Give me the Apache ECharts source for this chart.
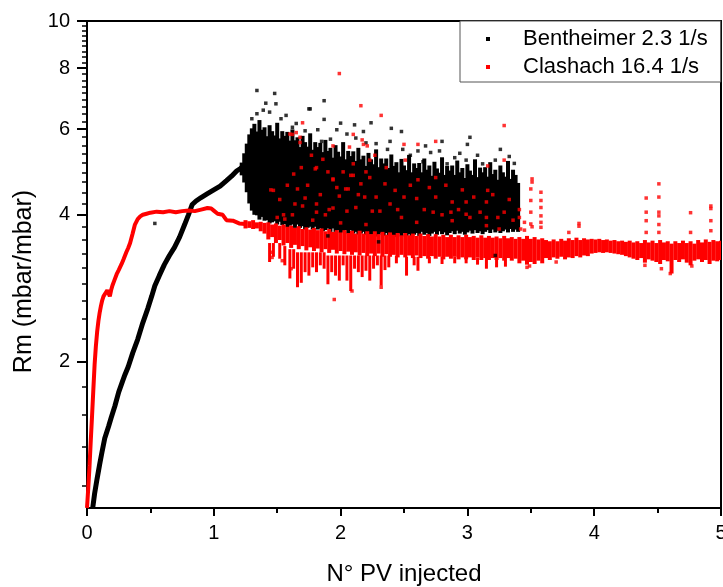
<!DOCTYPE html>
<html><head><meta charset="utf-8">
<script src="https://cdn.jsdelivr.net/npm/echarts/dist/echarts.min.js"></script>
<style>html,body{margin:0;padding:0;background:#fff}#chart{width:723px;height:587px}</style>
</head><body><div id="chart"></div>
<script>
const seriesNames = ['Bentheimer 2.3 1/s', 'Clashach 16.4 1/s'];
const xTickLabels = [0, 1, 2, 3, 4, 5];
const yTickLabels = [2, 4, 6, 8, 10];
const xTitle = 'N° PV injected';
const yTitle = 'Rm (mbar/mbar)';

// Bentheimer: early continuous trace [x, y]
const benthTrace = [[0.045,1.0],[0.06,1.07],[0.08,1.15],[0.1,1.23],[0.12,1.31],[0.14,1.39],[0.17,1.47],[0.19,1.53],[0.22,1.62],[0.25,1.73],[0.28,1.82],[0.3,1.88],[0.325,1.95],[0.36,2.08],[0.4,2.22],[0.44,2.4],[0.48,2.57],[0.51,2.72],[0.535,2.86],[0.57,3.0],[0.61,3.16],[0.65,3.3],[0.69,3.43],[0.73,3.6],[0.77,3.82],[0.8,4.0],[0.83,4.2],[0.86,4.27],[0.9,4.34],[0.95,4.42],[1.0,4.5],[1.05,4.58],[1.1,4.7],[1.14,4.8],[1.18,4.92],[1.21,4.98],[1.24,5.05]];
// Bentheimer: dense cloud, per column [x, low, high]
const benthCloud = [[1.22,4.82,5.12],[1.24,4.66,5.35],[1.26,4.45,5.6],[1.28,4.22,5.85],[1.30,4.08,6.02],[1.32,4.0,6.15],[1.34,3.99,5.93],[1.36,3.91,6.26],[1.38,3.96,5.98],[1.40,3.89,6.05],[1.42,3.9,5.8],[1.44,3.84,6.11],[1.46,3.86,5.94],[1.48,3.88,5.82],[1.50,3.82,6.18],[1.52,3.87,5.74],[1.54,3.81,5.94],[1.56,3.83,5.81],[1.58,3.77,5.92],[1.60,3.8,5.68],[1.62,3.82,5.99],[1.64,3.76,5.69],[1.66,3.82,5.77],[1.68,3.76,5.51],[1.70,3.79,5.81],[1.72,3.73,5.64],[1.74,3.76,5.52],[1.76,3.78,5.88],[1.78,3.73,5.44],[1.80,3.78,5.64],[1.82,3.73,5.51],[1.84,3.75,5.62],[1.86,3.7,5.38],[1.88,3.72,5.7],[1.90,3.75,5.41],[1.92,3.69,5.49],[1.94,3.75,5.24],[1.96,3.69,5.56],[1.98,3.72,5.39],[2.00,3.67,5.27],[2.02,3.69,5.64],[2.04,3.72,5.2],[2.06,3.66,5.41],[2.08,3.72,5.28],[2.10,3.66,5.4],[2.12,3.69,5.16],[2.14,3.64,5.49],[2.16,3.66,5.2],[2.18,3.69,5.29],[2.20,3.64,5.04],[2.22,3.69,5.36],[2.24,3.64,5.2],[2.26,3.67,5.08],[2.28,3.61,5.45],[2.30,3.64,5.01],[2.32,3.67,5.22],[2.34,3.62,5.1],[2.36,3.67,5.22],[2.38,3.62,4.99],[2.40,3.65,5.32],[2.42,3.6,5.04],[2.44,3.63,5.13],[2.46,3.66,4.89],[2.48,3.61,5.21],[2.50,3.67,5.05],[2.52,3.62,4.94],[2.54,3.65,5.31],[2.56,3.61,4.89],[2.58,3.64,5.1],[2.60,3.67,4.99],[2.62,3.62,5.11],[2.64,3.69,4.89],[2.66,3.64,5.22],[2.68,3.67,4.95],[2.70,3.62,5.05],[2.72,3.66,4.81],[2.74,3.69,5.14],[2.76,3.64,4.98],[2.78,3.7,4.88],[2.80,3.65,5.25],[2.82,3.68,4.83],[2.84,3.63,5.04],[2.86,3.67,4.93],[2.88,3.7,5.05],[2.90,3.65,4.83],[2.92,3.71,5.17],[2.94,3.66,4.89],[2.96,3.69,4.99],[2.98,3.64,4.76],[3.00,3.68,5.08],[3.02,3.71,4.93],[3.04,3.66,4.83],[3.06,3.72,5.2],[3.08,3.67,4.78],[3.10,3.7,5.0],[3.12,3.65,4.89],[3.14,3.69,5.01],[3.16,3.72,4.79],[3.18,3.67,5.13],[3.20,3.73,4.85],[3.22,3.68,4.95],[3.24,3.71,4.72],[3.26,3.67,5.05],[3.28,3.7,4.89],[3.30,3.73,4.79],[3.32,3.68,5.16],[3.34,3.74,4.74],[3.36,3.69,4.95],[3.38,3.73,4.83],[3.40,3.69,4.65]];
// Bentheimer: scattered individual points [x, y]
const benthPoints = [[0.535,3.84],[1.34,7.2],[1.48,7.1],[1.41,6.78],[1.49,6.76],[1.87,6.86],[1.75,6.6],[1.34,6.45],[1.39,6.56],[1.57,6.4],[1.65,6.16],[1.87,6.28],[2.0,6.17],[2.11,6.12],[2.24,6.18],[1.82,5.98],[1.97,5.98],[2.05,5.86],[2.18,5.93],[1.85,5.66],[2.12,5.75],[2.2,5.62],[2.4,6.02],[2.48,5.93],[2.39,5.66],[2.37,5.45],[2.49,5.45],[2.61,5.41],[2.67,5.54],[2.71,5.37],[2.8,5.66],[2.78,5.41],[3.02,5.77],[3.0,5.58],[2.9,5.24],[2.99,5.18],[3.12,5.09],[3.22,5.18],[3.26,5.45],[3.33,5.27],[2.65,5.14],[2.84,5.09],[3.22,3.3],[1.76,6.6],[1.44,6.5],[1.53,6.3],[1.3,6.3],[1.62,6.05],[1.72,5.95],[1.92,5.72],[2.28,5.6],[2.55,5.3],[2.94,5.35],[3.08,5.3],[3.37,5.1],[1.9,3.62],[2.3,3.52]];

// Clashach: early continuous trace [x, y]
const clashTrace = [[0,1.0],[0.01,1.1],[0.02,1.22],[0.03,1.38],[0.04,1.55],[0.05,1.75],[0.06,1.97],[0.07,2.15],[0.08,2.3],[0.09,2.42],[0.1,2.52],[0.11,2.6],[0.12,2.67],[0.13,2.72],[0.145,2.76],[0.16,2.8],[0.17,2.76],[0.18,2.72],[0.19,2.8],[0.2,2.86],[0.215,2.93],[0.234,3.02],[0.25,3.08],[0.273,3.17],[0.29,3.25],[0.31,3.35],[0.325,3.42],[0.34,3.5],[0.36,3.66],[0.378,3.82],[0.4,3.92],[0.42,3.97],[0.44,4.0],[0.47,4.02],[0.5,4.04],[0.55,4.06],[0.6,4.05],[0.65,4.07],[0.7,4.05],[0.75,4.07],[0.8,4.08],[0.85,4.07],[0.9,4.1],[0.95,4.13],[0.98,4.12],[1.0,4.08],[1.03,4.02],[1.07,4.0],[1.1,3.9],[1.15,3.89],[1.2,3.84],[1.25,3.83]];
// Clashach: noisy band, per column [x, low, high]
const clashBand = [[1.25,3.75,3.9],[1.28,3.76,3.88],[1.31,3.74,3.9],[1.34,3.75,3.86],[1.37,3.7,3.87],[1.40,3.66,3.85],[1.43,3.56,3.86],[1.46,3.6,3.82],[1.49,3.5,3.84],[1.52,3.55,3.8],[1.55,3.46,3.82],[1.58,3.5,3.78],[1.61,3.42,3.8],[1.64,3.47,3.76],[1.67,3.4,3.79],[1.70,3.45,3.74],[1.73,3.38,3.77],[1.76,3.43,3.73],[1.79,3.37,3.76],[1.82,3.41,3.72],[1.85,3.35,3.75],[1.88,3.4,3.7],[1.91,3.34,3.74],[1.94,3.39,3.69],[1.97,3.33,3.72],[2.00,3.37,3.68],[2.03,3.32,3.72],[2.06,3.36,3.67],[2.09,3.31,3.71],[2.12,3.35,3.66],[2.15,3.3,3.71],[2.18,3.34,3.66],[2.21,3.29,3.7],[2.24,3.33,3.65],[2.27,3.29,3.7],[2.30,3.33,3.65],[2.33,3.28,3.69],[2.36,3.32,3.64],[2.39,3.28,3.68],[2.42,3.31,3.64],[2.45,3.27,3.67],[2.48,3.31,3.63],[2.51,3.27,3.67],[2.54,3.3,3.63],[2.57,3.26,3.66],[2.60,3.3,3.62],[2.63,3.26,3.66],[2.66,3.29,3.62],[2.69,3.25,3.65],[2.72,3.29,3.61],[2.75,3.25,3.65],[2.78,3.28,3.61],[2.81,3.24,3.64],[2.84,3.28,3.6],[2.87,3.25,3.64],[2.90,3.28,3.6],[2.93,3.24,3.63],[2.96,3.27,3.6],[2.99,3.24,3.64],[3.02,3.27,3.6],[3.05,3.23,3.62],[3.08,3.27,3.59],[3.11,3.23,3.63],[3.14,3.26,3.59],[3.17,3.23,3.62],[3.20,3.26,3.59],[3.23,3.23,3.61],[3.26,3.26,3.58],[3.29,3.22,3.62],[3.32,3.26,3.58],[3.35,3.22,3.6],[3.38,3.25,3.57],[3.41,3.18,3.6],[3.44,3.22,3.57],[3.47,3.16,3.62],[3.50,3.2,3.57],[3.53,3.17,3.6],[3.56,3.22,3.56],[3.59,3.18,3.58],[3.62,3.26,3.55],[3.65,3.23,3.53],[3.68,3.27,3.56],[3.71,3.25,3.53],[3.74,3.28,3.57],[3.77,3.24,3.54],[3.80,3.27,3.58],[3.83,3.26,3.55],[3.86,3.29,3.59],[3.89,3.27,3.55],[3.92,3.3,3.58],[3.95,3.29,3.56],[3.98,3.33,3.57],[4.01,3.34,3.56],[4.04,3.35,3.57],[4.07,3.34,3.55],[4.10,3.35,3.56],[4.13,3.34,3.54],[4.16,3.33,3.55],[4.19,3.32,3.53],[4.22,3.31,3.54],[4.25,3.29,3.52],[4.28,3.27,3.54],[4.31,3.25,3.51],[4.34,3.23,3.53],[4.37,3.26,3.5],[4.40,3.19,3.55],[4.43,3.24,3.51],[4.46,3.22,3.54],[4.49,3.2,3.5],[4.52,3.17,3.55],[4.55,3.23,3.51],[4.58,3.21,3.53],[4.61,3.03,3.49],[4.64,3.23,3.53],[4.67,3.2,3.5],[4.70,3.24,3.54],[4.73,3.19,3.5],[4.76,3.15,3.53],[4.79,3.22,3.49],[4.82,3.24,3.55],[4.85,3.2,3.51],[4.88,3.23,3.56],[4.91,3.17,3.52],[4.94,3.22,3.55],[4.97,3.21,3.53],[5.00,3.23,3.54]];
// Clashach: downward noise streaks below the band [x, low, high]
const clashSpikes = [[1.44,3.2,3.5],[1.47,3.28,3.5],[1.52,3.25,3.5],[1.56,3.15,3.45],[1.60,2.96,3.4],[1.63,3.1,3.4],[1.66,2.84,3.35],[1.69,2.9,3.35],[1.72,3.05,3.35],[1.75,3.0,3.35],[1.78,3.12,3.35],[1.81,3.05,3.35],[1.84,3.15,3.35],[1.87,3.1,3.35],[1.90,2.88,3.3],[1.93,3.05,3.3],[1.96,3.0,3.3],[1.99,2.93,3.3],[2.02,3.15,3.3],[2.05,2.93,3.3],[2.08,2.79,3.3],[2.11,3.1,3.3],[2.14,3.05,3.3],[2.17,2.98,3.3],[2.20,3.07,3.3],[2.23,2.93,3.3],[2.26,3.1,3.3],[2.29,3.15,3.3],[2.32,2.86,3.3],[2.35,3.08,3.3],[2.38,3.12,3.3],[2.44,3.18,3.3],[2.52,3.0,3.28],[2.58,3.15,3.28],[2.61,3.07,3.28],[2.70,3.18,3.28],[2.80,3.17,3.28],[2.90,3.18,3.28],[2.99,3.18,3.28],[3.08,3.16,3.27],[3.15,3.1,3.27],[3.23,3.12,3.27],[3.30,3.13,3.27]];
// Clashach: scattered individual points [x, y]
const clashPoints = [[1.99,7.8],[2.16,6.7],[1.70,6.18],[1.60,5.86],[1.65,5.9],[1.68,5.63],[1.69,5.0],[1.80,4.97],[1.90,4.9],[1.45,4.5],[1.47,4.49],[1.66,4.52],[1.72,4.33],[1.64,4.21],[1.70,4.17],[1.81,4.21],[1.94,4.72],[1.94,4.13],[1.99,4.37],[2.06,4.52],[2.08,4.82],[2.10,5.09],[2.07,5.51],[2.10,5.85],[2.17,5.7],[2.21,5.54],[2.23,5.18],[2.23,4.77],[2.16,4.63],[2.19,4.35],[2.12,4.14],[2.25,4.07],[2.28,4.35],[1.81,4.05],[2.05,4.07],[1.91,4.1],[1.62,5.85],[1.68,5.77],[1.81,5.0],[1.94,5.54],[2.04,4.52],[1.94,4.74],[2.18,5.58],[2.10,4.82],[2.32,6.4],[2.50,5.58],[2.61,5.58],[2.75,5.66],[3.29,6.1],[3.29,5.18],[3.16,5.04],[2.75,4.77],[2.61,4.72],[2.51,5.18],[2.35,4.63],[2.43,4.49],[2.50,4.35],[2.60,4.32],[2.75,4.35],[2.88,4.25],[2.99,4.25],[3.15,4.25],[3.16,4.49],[3.29,4.05],[3.41,4.1],[3.45,3.86],[2.73,4.05],[2.87,4.05],[2.99,4.01],[3.15,3.95],[3.15,3.8],[3.25,3.74],[2.39,4.21],[2.31,4.07],[2.48,3.95],[2.60,3.86],[2.88,3.89],[3.02,3.95],[1.52,4.3],[1.55,4.0],[1.58,4.6],[1.63,4.85],[1.74,4.6],[1.77,5.3],[1.84,4.4],[1.86,5.2],[1.88,4.0],[1.97,4.55],[2.02,4.9],[2.14,4.4],[2.2,4.9],[2.27,5.3],[2.36,5.0],[2.45,4.1],[2.55,4.6],[2.66,4.1],[2.7,4.55],[2.8,4.0],[2.83,4.6],[2.93,4.1],[2.96,4.5],[3.05,4.35],[3.1,4.05],[3.2,4.4],[3.24,3.95],[3.33,4.3],[3.36,3.9],[1.5,3.95],[1.56,3.92],[1.62,4.0],[1.78,3.9],[2.0,3.85],[2.2,3.82],[1.45,3.35],[1.46,3.27],[1.54,3.22],[1.61,3.1],[1.95,2.68],[2.09,2.79],[2.32,2.84],[3.51,4.74],[3.51,4.67],[3.50,4.52],[3.50,4.28],[3.50,4.05],[3.50,3.83],[3.51,3.78],[3.58,4.45],[3.58,4.28],[3.58,4.14],[3.58,3.98],[3.58,3.86],[3.58,3.77],[3.41,3.95],[3.42,3.74],[3.45,3.72],[3.88,3.84],[3.88,3.79],[3.80,3.68],[4.41,4.33],[4.41,4.05],[4.41,3.89],[4.41,3.68],[4.51,4.63],[4.51,4.35],[4.51,4.05],[4.51,3.98],[4.51,3.82],[4.51,3.68],[4.76,4.04],[4.76,3.68],[4.92,4.17],[4.92,4.12],[4.92,3.89],[4.92,3.71],[4.60,3.03],[4.53,3.1],[3.47,3.12],[3.49,3.14],[4.40,3.15],[4.77,3.14],[3.70,3.2]];

const BLACK = '#000000', RED = '#ff0000';
const FONT = 'Liberation Sans, Arial, sans-serif';
// minor ticks on the log axis: 8 linear subdivisions between the labelled majors
const yMinorTicks = [];
[0, 2, 4, 6, 8].forEach(function (m) {
  for (let k = 1; k <= 8; k++) { const v = m + 2 * k / 9; if (v > 1 && v < 10) yMinorTicks.push(+v.toFixed(4)); }
});
function rangeRenderer(color, width) {
  return function (params, api) {
    const x = api.value(0), lo = api.value(1), hi = api.value(2);
    const pTop = api.coord([x, hi]), pBot = api.coord([x, lo]);
    return { type: 'rect', shape: { x: pTop[0] - width / 2, y: pTop[1], width: width, height: Math.max(1, pBot[1] - pTop[1]) }, style: { fill: color } };
  };
}
function line2() { return { show: true, onZero: false, lineStyle: { color: '#000', width: 2 } }; }
const LEGEND_ICON = 'path://M0,0h1v1h-1zM8,0v1';

const chart = echarts.init(document.getElementById('chart'));
chart.setOption({
  animation: false,
  backgroundColor: '#fff',
  grid: { left: 87, right: 2, top: 21, bottom: 79, outerBoundsMode: 'none' },
  legend: {
    data: [
      { name: seriesNames[0], icon: LEGEND_ICON, itemStyle: { color: BLACK } },
      { name: seriesNames[1], icon: LEGEND_ICON, itemStyle: { color: RED } }
    ],
    orient: 'vertical', left: 460, top: 21, itemWidth: 32, itemHeight: 4, itemGap: 6,
    selectedMode: false, padding: [7, 13, 4, 26], borderColor: '#555', borderWidth: 1, backgroundColor: '#fff',
    textStyle: { fontSize: 22, color: '#000', fontFamily: FONT }
  },
  xAxis: [{
    type: 'value', position: 'bottom', min: xTickLabels[0], max: xTickLabels[xTickLabels.length - 1], interval: 1,
    axisLine: line2(),
    axisTick: { show: true, length: 8, lineStyle: { color: '#000', width: 2 } },
    minorTick: { show: true, splitNumber: 2, length: 5, lineStyle: { color: '#000', width: 2 } },
    splitLine: { show: false }, minorSplitLine: { show: false },
    axisLabel: { fontSize: 20, color: '#000', margin: 15, fontFamily: FONT },
    name: xTitle, nameLocation: 'middle', nameGap: 54,
    nameTextStyle: { fontSize: 24, color: '#000', fontFamily: FONT }
  }, {
    type: 'value', position: 'top', min: xTickLabels[0], max: xTickLabels[xTickLabels.length - 1],
    axisLine: line2(), axisTick: { show: false }, axisLabel: { show: false }, splitLine: { show: false }
  }],
  yAxis: [{
    type: 'log', logBase: 10, min: 1, max: 10, position: 'left',
    axisLine: line2(),
    axisTick: { show: true, length: 10, customValues: yTickLabels, lineStyle: { color: '#000', width: 2 } },
    axisLabel: { customValues: yTickLabels, fontSize: 20, color: '#000', margin: 17, fontFamily: FONT },
    splitLine: { show: false },
    name: yTitle, nameLocation: 'middle', nameGap: 50,
    nameTextStyle: { fontSize: 25, color: '#000', fontFamily: FONT, padding: [0, 34, 0, 0] }
  }, {
    type: 'log', logBase: 10, min: 1, max: 10, position: 'left',
    axisLine: { show: false },
    axisTick: { show: true, length: 5, customValues: yMinorTicks, lineStyle: { color: '#000', width: 1.5 } },
    axisLabel: { show: false }, splitLine: { show: false }
  }, {
    type: 'log', logBase: 10, min: 1, max: 10, position: 'right',
    axisLine: line2(), axisTick: { show: false }, axisLabel: { show: false }, splitLine: { show: false }
  }],
  series: [
    { name: seriesNames[0], type: 'custom', clip: true, data: benthCloud, dimensions: ['x', 'lo', 'hi'], encode: { x: 'x', y: ['lo', 'hi'] }, itemStyle: { color: BLACK }, renderItem: rangeRenderer(BLACK, 4), silent: true },
    { name: seriesNames[0], type: 'line', data: benthTrace, showSymbol: false, symbol: 'none', lineStyle: { color: BLACK, width: 5 }, itemStyle: { color: BLACK }, silent: true },
    { name: seriesNames[0], type: 'scatter', data: benthPoints, symbol: 'rect', symbolSize: 3.5, itemStyle: { color: BLACK }, silent: true },
    { name: seriesNames[1], type: 'custom', clip: true, data: clashBand, dimensions: ['x', 'lo', 'hi'], encode: { x: 'x', y: ['lo', 'hi'] }, itemStyle: { color: RED }, renderItem: rangeRenderer(RED, 4), silent: true },
    { name: seriesNames[1], type: 'custom', clip: true, data: clashSpikes, dimensions: ['x', 'lo', 'hi'], encode: { x: 'x', y: ['lo', 'hi'] }, itemStyle: { color: RED }, renderItem: rangeRenderer(RED, 3), silent: true },
    { name: seriesNames[1], type: 'line', data: clashTrace, showSymbol: false, symbol: 'none', lineStyle: { color: RED, width: 4 }, itemStyle: { color: RED }, silent: true },
    { name: seriesNames[1], type: 'scatter', data: clashPoints, symbol: 'rect', symbolSize: 3.5, itemStyle: { color: RED }, silent: true }
  ]
});
</script>
</body></html>
